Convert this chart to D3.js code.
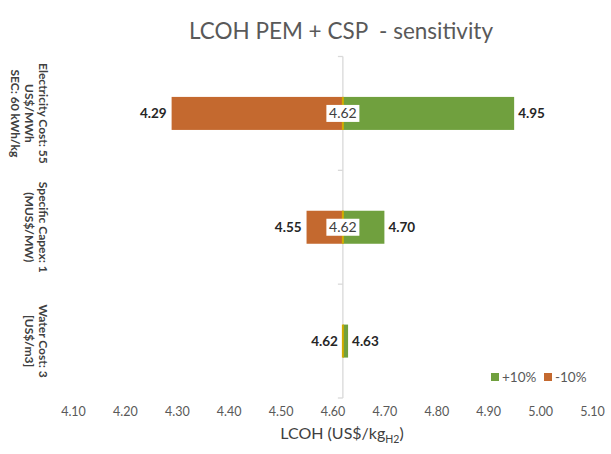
<!DOCTYPE html>
<html>
<head>
<meta charset="utf-8">
<script src="https://cdn.jsdelivr.net/npm/d3@7"></script>
<style>
  html, body { margin: 0; padding: 0; background: #fff; }
  svg { display: block; font-family: Lato, "Open Sans", sans-serif; }
</style>
</head>
<body>
<svg id="chart" width="611" height="454"></svg>
<script>
// Sensitivity of LCOH (PEM electrolysis + CSP) to ±10% changes in each input
const categories = [
  ["Electricity Cost: 55", "US$/MWh", "SEC: 60 kWh/kg"],
  ["Specific Capex: 1", "(MUS$/MW)"],
  ["Water Cost: 3", "[US$/m3]"]
];
const baseValue = 4.62;
const plusTen = [4.95, 4.70, 4.63];   // +10% case
const minusTen = [4.29, 4.55, 4.62];  // -10% case
const xTicks = [4.10, 4.20, 4.30, 4.40, 4.50, 4.60, 4.70, 4.80, 4.90, 5.00, 5.10];
const seriesNames = ["+10%", "-10%"];

const colors = { plus: "#70a03e", minus: "#c4692f", base: "#d2ac00", axis: "#d9d9d9" };

const svg = d3.select("#chart");

const x = d3.scaleLinear().domain([4.10, 5.10]).range([73, 592]);
const y = d3.scaleBand().domain(d3.range(categories.length)).range([56.5, 398]).paddingInner(0.71).paddingOuter(0.355);
const yBand = d3.scaleBand().domain(d3.range(categories.length)).range([56.5, 398]);

// Title
svg.append("text")
  .attr("x", 341).attr("y", 39)
  .attr("text-anchor", "middle")
  .attr("font-size", 22.5)
  .attr("fill", "#595959")
  .attr("xml:space", "preserve")
  .text("LCOH PEM + CSP  - sensitivity");

// Vertical axis through the base case
const yAxisG = svg.append("g").attr("transform", `translate(${x(baseValue)},0)`);
yAxisG.append("line")
  .attr("y1", 56.5).attr("y2", 398)
  .attr("stroke", colors.axis).attr("stroke-width", 1.3);
const boundaries = d3.range(categories.length + 1).map(i => i === categories.length ? 398 : yBand(i));
yAxisG.selectAll("line.tick").data(boundaries).join("line")
  .attr("class", "tick")
  .attr("x1", -5).attr("x2", 0)
  .attr("y1", d => d).attr("y2", d => d)
  .attr("stroke", colors.axis).attr("stroke-width", 1.3);

// Bottom tick labels (no axis line)
const xAxis = d3.axisBottom(x).tickValues(xTicks).tickFormat(d3.format(".2f")).tickSize(0).tickPadding(0);
const xg = svg.append("g").attr("transform", "translate(0,404)").call(xAxis);
xg.select(".domain").remove();
xg.selectAll("text")
  .attr("font-family", "Lato, 'Open Sans', sans-serif")
  .attr("font-size", 12.5)
  .attr("fill", "#595959")
  .attr("dy", "0.95em");

// X axis title with subscript
const xt = svg.append("text")
  .attr("x", 342).attr("y", 439)
  .attr("text-anchor", "middle")
  .attr("font-size", 16)
  .attr("fill", "#404040");
xt.append("tspan").text("LCOH (US$/kg");
xt.append("tspan").attr("font-size", 10.5).attr("dy", 4).text("H2");
xt.append("tspan").attr("dy", -4).text(")");

// Category labels, rotated to read top-to-bottom
categories.forEach((lines, i) => {
  const cy = yBand(i) + yBand.bandwidth() / 2;
  const t = svg.append("text")
    .attr("transform", `translate(43,${cy}) rotate(90)`)
    .attr("text-anchor", "middle")
    .attr("font-size", 12)
    .attr("font-weight", "bold")
    .attr("fill", "#404040");
  lines.forEach((ln, k) => {
    t.append("tspan").attr("x", 0).attr("y", 4 + k * 14).text(ln);
  });
});

const rows = categories.map((c, i) => ({ i, plus: plusTen[i], minus: minusTen[i] }));

// -10% bars
svg.selectAll("rect.minus").data(rows).join("rect")
  .attr("class", "minus")
  .attr("x", d => x(d.minus))
  .attr("y", d => y(d.i))
  .attr("width", d => x(baseValue) - x(d.minus))
  .attr("height", y.bandwidth())
  .attr("fill", colors.minus);

// +10% bars
svg.selectAll("rect.plus").data(rows).join("rect")
  .attr("class", "plus")
  .attr("x", x(baseValue))
  .attr("y", d => y(d.i))
  .attr("width", d => x(d.plus) - x(baseValue))
  .attr("height", y.bandwidth())
  .attr("fill", colors.plus);

// Base-case marker inside each bar
svg.selectAll("rect.base").data(rows).join("rect")
  .attr("class", "base")
  .attr("x", x(baseValue) - 1)
  .attr("y", d => y(d.i))
  .attr("width", 2)
  .attr("height", y.bandwidth())
  .attr("fill", colors.base);

// Value labels at bar ends
svg.selectAll("text.minusLbl").data(rows).join("text")
  .attr("class", "minusLbl")
  .attr("x", d => x(d.minus) - 5)
  .attr("y", d => y(d.i) + y.bandwidth() / 2)
  .attr("dy", "0.36em")
  .attr("text-anchor", "end")
  .attr("font-size", 13.5)
  .attr("font-weight", "bold")
  .attr("fill", "#262626")
  .text(d => d.minus.toFixed(2));

svg.selectAll("text.plusLbl").data(rows).join("text")
  .attr("class", "plusLbl")
  .attr("x", d => x(d.plus) + 4)
  .attr("y", d => y(d.i) + y.bandwidth() / 2)
  .attr("dy", "0.36em")
  .attr("font-size", 13.5)
  .attr("font-weight", "bold")
  .attr("fill", "#262626")
  .text(d => d.plus.toFixed(2));

// Base value label in a white box where the bar spans both sides
const withBase = rows.filter(d => d.minus < baseValue && d.plus > baseValue);
const baseG = svg.selectAll("g.baseLbl").data(withBase).join("g")
  .attr("class", "baseLbl")
  .attr("transform", d => `translate(${x(baseValue)},${y(d.i) + y.bandwidth() / 2})`);
baseG.append("rect")
  .attr("x", -16.5).attr("y", -8.5).attr("width", 33).attr("height", 17)
  .attr("fill", "#fff");
baseG.append("text")
  .attr("text-anchor", "middle")
  .attr("dy", "0.36em")
  .attr("font-size", 14)
  .attr("fill", "#404040")
  .text(baseValue.toFixed(2));

// Legend
const legend = svg.append("g").attr("transform", "translate(491,377)");
const legendItems = [
  { name: seriesNames[0], color: colors.plus, dx: 0 },
  { name: seriesNames[1], color: colors.minus, dx: 53 }
];
legendItems.forEach(it => {
  const g = legend.append("g").attr("transform", `translate(${it.dx},0)`);
  g.append("rect").attr("x", 0).attr("y", -4).attr("width", 8).attr("height", 8).attr("fill", it.color);
  g.append("text").attr("x", 11).attr("dy", "0.36em")
    .attr("font-size", 13.5).attr("fill", "#595959").text(it.name);
});
</script>
</body>
</html>
